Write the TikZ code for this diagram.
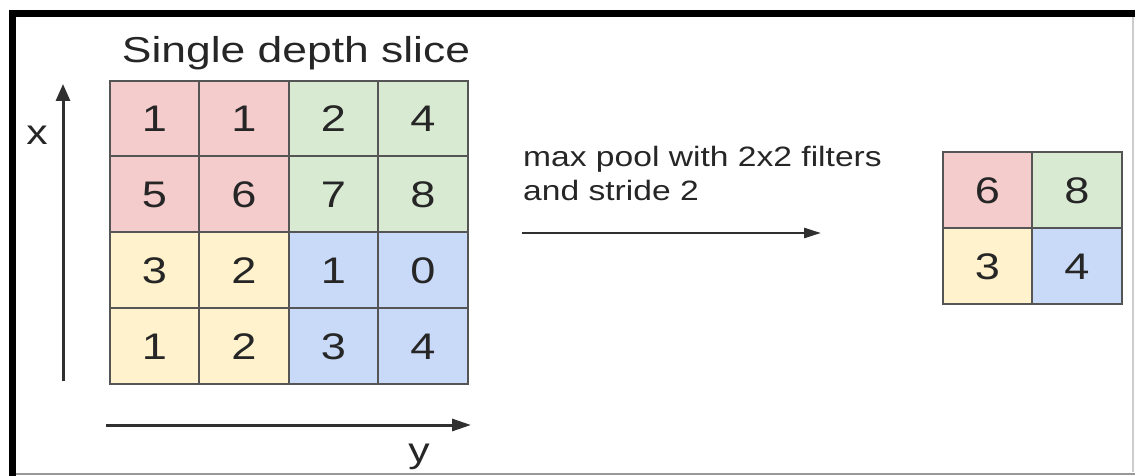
\documentclass[tikz,border=0pt]{standalone}
\usepackage{graphicx}
\usepackage{fontspec}
\setmainfont{Liberation Sans}
\usetikzlibrary{arrows.meta}
\definecolor{cpink}{HTML}{F4CCCC}
\definecolor{cgreen}{HTML}{D9EAD3}
\definecolor{cyellow}{HTML}{FFF2CC}
\definecolor{cblue}{HTML}{C9DAF8}
\definecolor{gridc}{HTML}{555555}
\definecolor{txt}{HTML}{262626}
\definecolor{arr}{HTML}{303030}
\newcommand\sx[1]{\scalebox{1.22}[1]{#1}}
\tikzset{
  cell/.style={draw=gridc, line width=1.8pt, minimum width=89.5pt, minimum height=75.75pt,
    inner sep=0pt, text=txt, text height=26.5pt, text depth=0pt,
    font=\fontsize{37}{40}\selectfont},
  axis/.style={draw=arr, line width=3pt},
  lbl/.style={text=txt, inner sep=0pt, anchor=base},
}
\begin{document}
\begin{tikzpicture}[x=1pt,y=-1pt]
\useasboundingbox (0,0) rectangle (1135,476);
% frame
\draw[black, line width=6.5pt] (9,13.5) -- (1135,13.5);
\draw[black, line width=7pt] (12.5,10) -- (12.5,476);
\draw[gray!80, line width=2pt] (16,473.5) -- (1135,473.5);
\draw[gray!40, line width=1.5pt] (1133,17) -- (1133,472);
% title
\node[lbl, font=\fontsize{36}{40}\selectfont] (title) at (296,63) {\scalebox{1.234}[1]{Single depth slice}};
% left grid
\node[cell, fill=cpink]   (a11) at (154.5,118.5) {\sx{1}};
\node[cell, fill=cpink]   (a12) at (244.0,118.5) {\sx{1}};
\node[cell, fill=cgreen]  (a13) at (333.5,118.5) {\sx{2}};
\node[cell, fill=cgreen]  (a14) at (423.0,118.5) {\sx{4}};
\node[cell, fill=cpink]   (a21) at (154.5,194.25) {\sx{5}};
\node[cell, fill=cpink]   (a22) at (244.0,194.25) {\sx{6}};
\node[cell, fill=cgreen]  (a23) at (333.5,194.25) {\sx{7}};
\node[cell, fill=cgreen]  (a24) at (423.0,194.25) {\sx{8}};
\node[cell, fill=cyellow] (a31) at (154.5,270) {\sx{3}};
\node[cell, fill=cyellow] (a32) at (244.0,270) {\sx{2}};
\node[cell, fill=cblue]   (a33) at (333.5,270) {\sx{1}};
\node[cell, fill=cblue]   (a34) at (423.0,270) {\sx{0}};
\node[cell, fill=cyellow] (a41) at (154.5,345.75) {\sx{1}};
\node[cell, fill=cyellow] (a42) at (244.0,345.75) {\sx{2}};
\node[cell, fill=cblue]   (a43) at (333.5,345.75) {\sx{3}};
\node[cell, fill=cblue]   (a44) at (423.0,345.75) {\sx{4}};
% right grid
\node[cell, fill=cpink]   (b11) at (987.5,190) {\sx{6}};
\node[cell, fill=cgreen]  (b12) at (1077,190) {\sx{8}};
\node[cell, fill=cyellow] (b21) at (987.5,265.75) {\sx{3}};
\node[cell, fill=cblue]   (b22) at (1077,265.75) {\sx{4}};
% axes
\coordinate (xs) at (63,381);
\coordinate (xe) at (63,84);
\coordinate (ys) at (106,425);
\coordinate (ye) at (471,425);
\draw[axis, -{Triangle[length=17pt,width=14pt]}] (xs) -- (xe);
\draw[axis, -{Triangle[length=19pt,width=12pt]}] (ys) -- (ye);
\node[lbl, font=\fontsize{35}{40}\selectfont] (xl) at (37,145) {\sx{x}};
\node[lbl, font=\fontsize{35}{40}\selectfont] (yl) at (419,462) {\sx{y}};
% middle
\node[lbl, anchor=base west, font=\fontsize{28}{34}\selectfont] (desc) at (523,167)
  {\scalebox{1.2}[1]{\begin{tabular}[t]{@{}l@{}}max pool with 2x2 filters\\and stride 2\end{tabular}}};
\coordinate (ms) at (522,233);
\coordinate (me) at (821,233);
\draw[axis, line width=2.6pt, -{Triangle[length=17pt,width=10pt]}] (ms) -- (me);
\end{tikzpicture}
\end{document}
